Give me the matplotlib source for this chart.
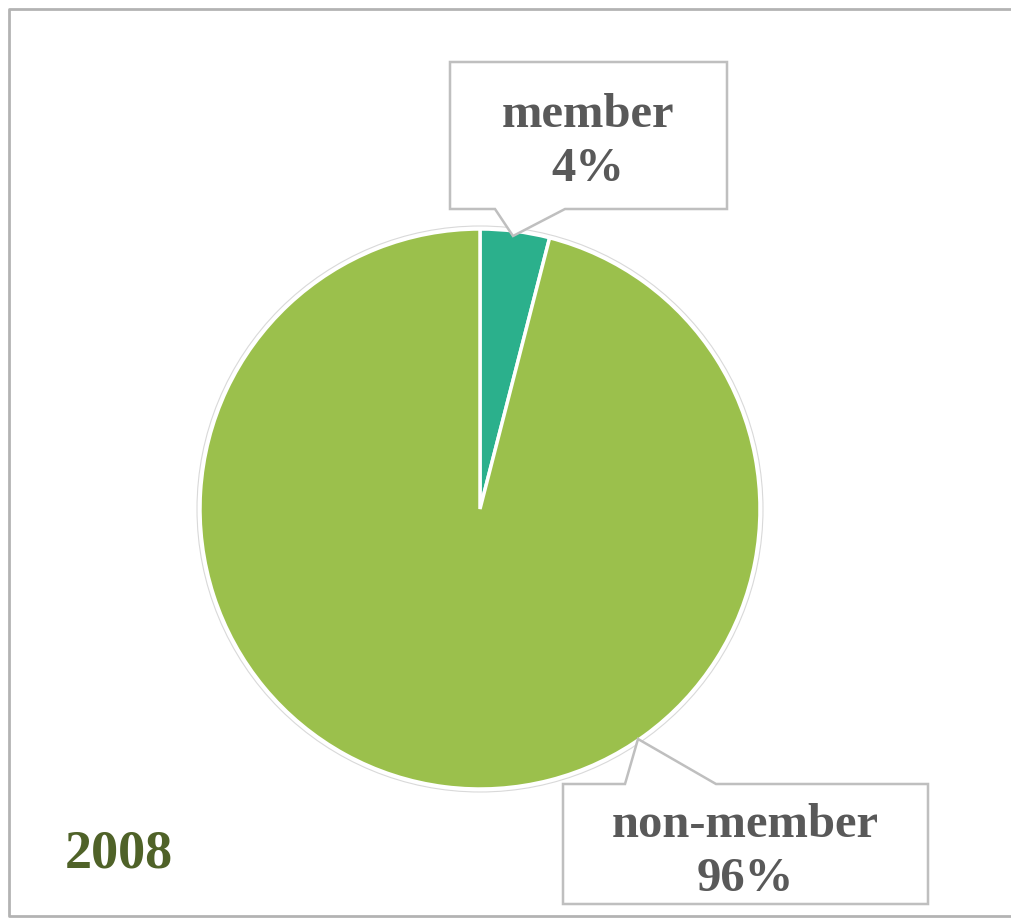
import numpy as np
import matplotlib.pyplot as plt
from matplotlib.patches import Polygon, Circle

# data
categories = ['member', 'non-member']
shares = [4, 96]
colors = ['#2BB08C', '#9BC04C']
year = '2008'

W, H = 1012, 920
fig = plt.figure(figsize=(W / 100, H / 100), dpi=100)
ax = fig.add_axes([0, 0, 1, 1])

plt.rcParams['font.family'] = ['Liberation Serif', 'DejaVu Serif']

cx, cy, r = 480, 510, 280

# faint outline around the pie
ax.add_patch(Circle((cx, cy), r + 3, facecolor='none', edgecolor='#D9D9D9', lw=0.8, zorder=1))

# y axis is inverted, so counterclock=True draws clockwise on screen
wedges, _ = ax.pie(shares, colors=colors, startangle=-90, counterclock=True,
                   radius=r, center=(cx, cy), frame=True,
                   wedgeprops=dict(edgecolor='white', linewidth=2.5))
ax.set_xlim(0, W)
ax.set_ylim(H, 0)
ax.set_aspect('equal')
ax.axis('off')

txt_color = '#595959'
box_edge = '#BFBFBF'

# callout boxes (pixel coords)
member_box = [(450, 63), (727, 63), (727, 210), (565, 210), (513, 237), (495, 210), (450, 210)]
nonmember_box = [(563, 785), (625, 785), (638, 740), (716, 785), (928, 785),
                 (928, 905), (563, 905)]
for pts in (member_box, nonmember_box):
    ax.add_patch(Polygon(pts, closed=True, facecolor='white', edgecolor=box_edge,
                         lw=1.8, zorder=5))

lab = dict(ha='center', va='center', fontsize=35, fontweight='bold',
           color=txt_color, zorder=6)
ax.text(588, 115, categories[0], **lab)
ax.text(588, 169, f'{shares[0]}%', **lab)
ax.text(745, 825, categories[1], **lab)
ax.text(745, 879, f'{shares[1]}%', **lab)

ax.text(119, 855, year, ha='center', va='center', fontsize=39,
        fontweight='bold', color='#4F6228')

# outer frame
ax.plot([1100, 9.5, 9.5, 1100], [10, 10, 917, 917], color='#B3B3B3', lw=2,
        clip_on=False, zorder=0)

fig.savefig('out.png', dpi=100)
